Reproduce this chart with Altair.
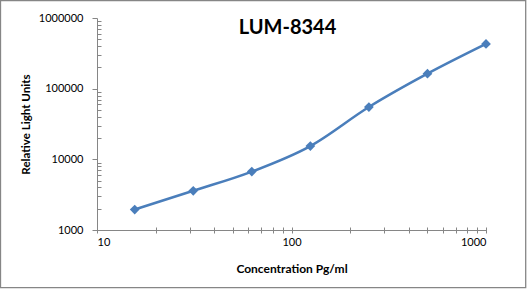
import altair as alt
import pandas as pd

conc = [15.625, 31.25, 62.5, 125, 250, 500, 1000]
rlu = [1950, 3580, 6700, 15400, 55000, 163000, 430000]
chart_title = "LUM-8344"

x_major = [10, 100, 1000]
x_minor = [10, 20, 30, 40, 50, 60, 70, 80, 90, 100, 200, 300, 400, 500, 600, 700, 800, 900, 1000]
y_major = [1000, 10000, 100000, 1000000]
y_minor = [m * 10 ** k for k in (3, 4, 5) for m in (2, 3, 4, 5, 6, 7, 8, 9)]

df = pd.DataFrame({"conc": conc, "rlu": rlu})

FONT = "Lato"
GRAY = "#868686"
BLUE = "#4A7EBB"
W, H = 389, 212

xscale = alt.Scale(type="log", domain=[10, 1000], nice=False)
yscale = alt.Scale(type="log", domain=[1000, 1000000], nice=False)

line = alt.Chart(df).mark_line(color=BLUE, strokeWidth=2.6, interpolate="monotone").encode(
    x=alt.X("conc:Q", scale=xscale,
            axis=alt.Axis(values=x_major, format="d", ticks=False, grid=False,
                          domainColor=GRAY, labelFont=FONT, labelFontSize=11, labelColor="black",
                          labelPadding=6, title="Concentration Pg/ml", titleFont=FONT,
                          titleFontSize=12, titleFontWeight="bold", titleColor="black",
                          titleY=42.5, titleBaseline="alphabetic", orient="bottom")),
    y=alt.Y("rlu:Q", scale=yscale,
            axis=alt.Axis(values=y_major, format="d", tickSize=5, tickColor=GRAY, grid=False,
                          domainColor=GRAY, labelFont=FONT, labelFontSize=11, labelColor="black",
                          labelPadding=9, title="Relative Light Units", titleFont=FONT,
                          titleFontSize=11.6, titleFontWeight="bold", titleColor="black",
                          titleX=-71, titleY=H / 2, titleBaseline="middle", titleAngle=270,
                          orient="left")),
)

points = alt.Chart(df).mark_point(shape="diamond", filled=True, size=95, color=BLUE, opacity=1).encode(
    x=alt.X("conc:Q", scale=xscale,
            axis=alt.Axis(values=x_minor, labels=False, domain=False, grid=False, title=None,
                          tickSize=6, offset=-3, tickColor=GRAY, orient="bottom")),
    y=alt.Y("rlu:Q", scale=yscale,
            axis=alt.Axis(values=y_minor, labels=False, domain=False, grid=False, title=None,
                          tickSize=4, offset=-4, tickColor=GRAY, orient="left")),
)

border = alt.Chart(pd.DataFrame({"a": [0]})).mark_rect(
    fillOpacity=0, stroke=GRAY, strokeWidth=1.3
).encode(
    x=alt.value(-96.5), x2=alt.value(428.7), y=alt.value(-17.5), y2=alt.value(269.7)
)

title = alt.Chart(pd.DataFrame({"t": [chart_title]})).mark_text(
    font=FONT, fontSize=20, fontWeight="bold", color="black", align="center", baseline="alphabetic"
).encode(
    text="t:N", x=alt.value(W / 2 - 4), y=alt.value(16.3)
)

chart = alt.layer(border, line, points, title).resolve_axis(x="independent", y="independent").properties(
    width=W, height=H,
    autosize=alt.AutoSizeParams(type="none"),
    padding={"left": 97, "top": 18, "right": 527 - 97 - W, "bottom": 292 - 18 - H},
    background="white",
).configure_view(stroke=None)

chart.save("out.html", embed_options={"renderer": "svg", "actions": False})
